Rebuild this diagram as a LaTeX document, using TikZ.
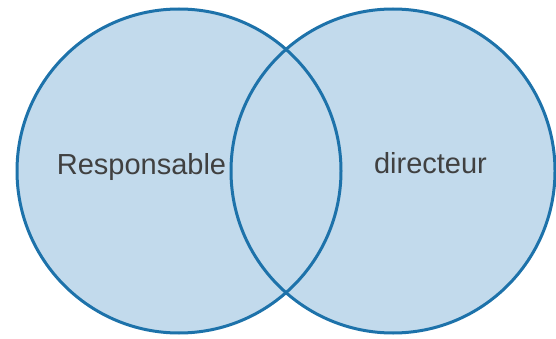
\documentclass[tikz,border=0pt]{standalone}
\usepackage{fontspec}
\setmainfont{Liberation Sans}
\usepackage{tikz}
\usetikzlibrary{positioning}
\usepackage{xcolor}
\definecolor{setfill}{HTML}{C2DAEC}
\definecolor{setline}{HTML}{1D72AA}
\definecolor{settext}{HTML}{404040}

\begin{document}
\begin{tikzpicture}[x=1pt, y=-1pt]
	\tikzset{setcircle/.style={circle, fill=setfill, minimum size=324pt, inner sep=0pt},
		setborder/.style={draw=setline, line width=3pt},
		setlabel/.style={text=settext, font=\fontsize{29}{30}\selectfont, anchor=base, inner sep=0pt}}
	\useasboundingbox (0, 0) rectangle (556, 339);
	\node[setcircle] (resp) at (179, 171) {};
	\node[setcircle] (dir) at (393, 171) {};
	\draw[setborder] (resp.center) circle (162);
	\draw[setborder] (dir.center) circle (162);
	\node[setlabel] (respl) at (141.5, 175) {Responsable};
	\node[setlabel] (dirl) at (430.5, 174) {directeur};
\end{tikzpicture}
\end{document}
